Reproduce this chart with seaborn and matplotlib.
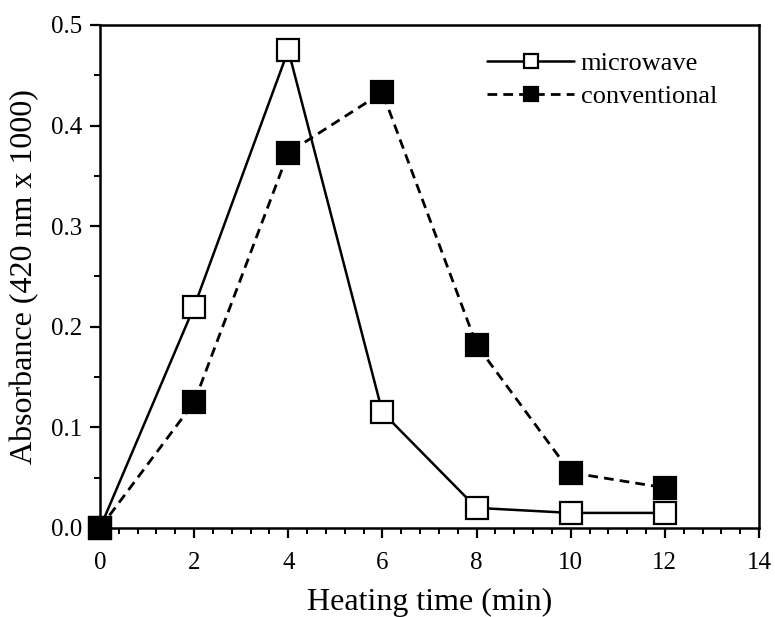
import matplotlib
matplotlib.use("Agg")
import matplotlib.pyplot as plt
import seaborn as sns
import numpy as np
from matplotlib.ticker import MultipleLocator, FormatStrFormatter

time_min = [0, 2, 4, 6, 8, 10, 12]
microwave = [0.0, 0.22, 0.475, 0.115, 0.02, 0.015, 0.015]
conventional = [0.0, 0.125, 0.373, 0.433, 0.182, 0.055, 0.04]

sns.set_theme(style="ticks")
plt.rcParams['font.family'] = ['Liberation Serif', 'DejaVu Serif']

fig = plt.figure(figsize=(7.75, 6.17), dpi=100)
ax = fig.add_axes([100 / 775, 1 - 528 / 617, 659 / 775, 503 / 617])

sns.lineplot(x=time_min, y=microwave, ax=ax, color='black', linestyle='-',
             linewidth=1.8, marker='s', markersize=16, markerfacecolor='white',
             markeredgecolor='black', markeredgewidth=1.6, label='microwave',
             zorder=4, clip_on=False)
sns.lineplot(x=time_min, y=conventional, ax=ax, color='black', linestyle=(0, (3.5, 2.2)),
             linewidth=2.0, marker='s', markersize=16, markerfacecolor='black',
             markeredgecolor='black', markeredgewidth=1.6, label='conventional',
             zorder=5, clip_on=False)

ax.set_xlim(0, 14)
ax.set_ylim(0, 0.5)
ax.xaxis.set_major_locator(MultipleLocator(2))
ax.xaxis.set_minor_locator(MultipleLocator(0.4))
ax.yaxis.set_major_locator(MultipleLocator(0.1))
ax.yaxis.set_minor_locator(MultipleLocator(0.05))
ax.yaxis.set_major_formatter(FormatStrFormatter('%.1f'))

for s in ax.spines.values():
    s.set_color('black')
    s.set_linewidth(1.8)

ax.tick_params(axis='both', which='major', direction='out', length=7, width=1.6,
               colors='black', labelsize=18, pad=6)
ax.tick_params(axis='x', which='major', pad=10)
ax.tick_params(axis='both', which='minor', direction='out', length=4, width=1.4, colors='black')

ax.set_xlabel('Heating time (min)', fontsize=23, color='black', labelpad=10)
ax.set_ylabel('Absorbance (420 nm x 1000)', fontsize=23, color='black', labelpad=8)

handles, labels = ax.get_legend_handles_labels()
leg = ax.legend(handles, labels, loc='upper left',
                bbox_to_anchor=(487 / 775, 1 - 52 / 617), bbox_transform=fig.transFigure,
                frameon=False, fontsize=19, handlelength=3.3, handletextpad=0.25,
                labelspacing=0.35, markerscale=0.65, borderpad=0, borderaxespad=0)
for t in leg.get_texts():
    t.set_color('black')

fig.savefig('out.png', dpi=100)
